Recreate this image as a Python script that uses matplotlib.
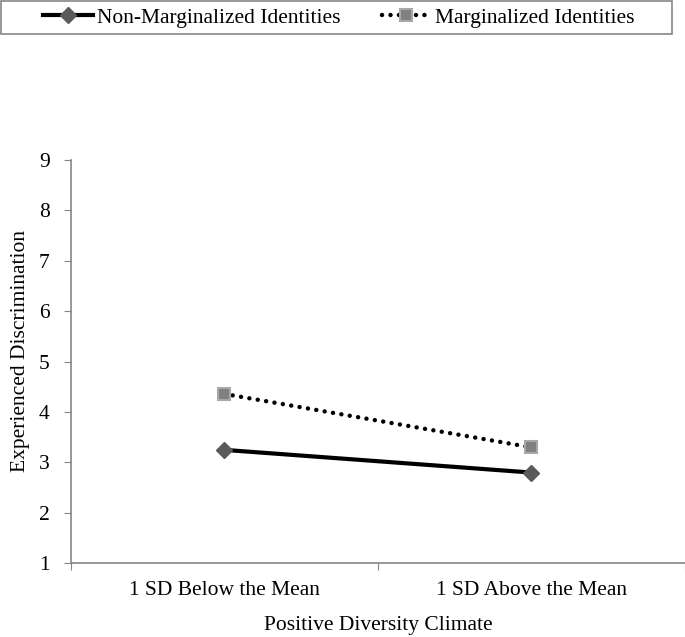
import numpy as np
import matplotlib.pyplot as plt
from matplotlib.patches import Rectangle
from matplotlib.lines import Line2D

plt.rcParams['font.family'] = ['Liberation Serif', 'DejaVu Serif']

categories = ["1 SD Below the Mean", "1 SD Above the Mean"]
non_marginalized = [3.25, 2.80]
marginalized = [4.36, 3.30]
series_names = ["Non-Marginalized Identities", "Marginalized Identities"]
y_ticks = [1, 2, 3, 4, 5, 6, 7, 8, 9]

fs = 15.5

fig = plt.figure(figsize=(6.85, 6.37), dpi=100)
ax = fig.add_axes([0.1032, 0.1157, 0.8968, 0.6331])

x = np.arange(len(categories)) + 0.5
dot_style = (0, (0.01, 1.9))
ax.plot(x, non_marginalized, color="black", lw=3, marker="D", markersize=8,
        markerfacecolor="#5a5a5a", markeredgecolor="#5a5a5a", zorder=3)
ax.plot(x, marginalized, color="black", lw=3.2, linestyle=dot_style,
        dash_capstyle="round", marker="s", markersize=9,
        markerfacecolor="#808080", markeredgecolor="#a8a8a8", markeredgewidth=1.5, zorder=3)

ax.set_xlim(0, 2)
ax.set_ylim(1, 9)
ax.set_yticks(y_ticks)
ax.set_xticks([0, 1, 2])
ax.set_xticklabels([])
ax.set_xticks(x, minor=True)
ax.set_xticklabels(categories, minor=True)
ax.tick_params(axis="x", which="minor", length=0, pad=13, labelsize=fs)
ax.tick_params(axis="x", which="major", length=5, color="#868686", direction="out")
ax.tick_params(axis="y", length=5, color="#868686", labelsize=fs, pad=10)

for side in ["top", "right"]:
    ax.spines[side].set_visible(False)
for side in ["left", "bottom"]:
    ax.spines[side].set_color("#868686")
    ax.spines[side].set_linewidth(1.2)

ax.set_xlabel("Positive Diversity Climate", fontsize=fs)
ax.set_ylabel("Experienced Discrimination", fontsize=fs)
ax.xaxis.set_label_coords(0.5, -0.1295)
ax.yaxis.set_label_coords(-0.0665, 0.526)

# legend box across the top
fig.patches.append(Rectangle((0.0015, 0.9466), 0.980, 0.0525, transform=fig.transFigure,
                             fill=False, edgecolor="#868686", lw=1.2))
handles = [
    Line2D([], [], color="black", lw=3, marker="D", markersize=8,
           markerfacecolor="#5a5a5a", markeredgecolor="#5a5a5a"),
    Line2D([], [], color="black", lw=3.2, linestyle=dot_style, dash_capstyle="round",
           marker="s", markersize=9, markerfacecolor="#808080",
           markeredgecolor="#a8a8a8", markeredgewidth=1.5),
]
fig.legend(handles, series_names, loc="center", bbox_to_anchor=(0.495, 0.9725), ncol=2,
           frameon=False, fontsize=fs, handlelength=2.3, handletextpad=0.2,
           columnspacing=1.9, borderpad=0)

fig.savefig("out.png", dpi=100)
